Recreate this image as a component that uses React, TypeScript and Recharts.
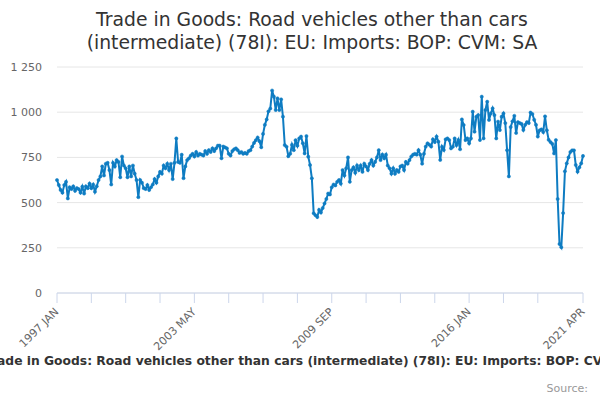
import { CartesianGrid, Line, LineChart, XAxis, YAxis } from "recharts";

const MONTHS = ["JAN", "FEB", "MAR", "APR", "MAY", "JUN", "JUL", "AUG", "SEP", "OCT", "NOV", "DEC"];
const START_YEAR = 1997;

// monthly values, £ million, 1997 JAN .. 2021 APR
const imports = [
  625, 597, 570, 555, 597, 615, 523, 585, 575, 590, 565, 580, // 1997
  575, 555, 588, 550, 590, 580, 605, 580, 600, 560, 590, 625, // 1998
  645, 700, 650, 715, 720, 680, 600, 720, 700, 735, 725, 640, // 1999
  755, 705, 690, 640, 700, 645, 705, 660, 625, 530, 625, 610, // 2000
  580, 575, 597, 570, 585, 600, 630, 610, 645, 670, 660, 705, // 2001
  690, 715, 680, 715, 630, 720, 855, 725, 720, 765, 635, 700, // 2002
  735, 745, 760, 770, 755, 780, 760, 770, 765, 760, 785, 770, // 2003
  790, 780, 800, 785, 800, 815, 815, 745, 810, 805, 800, 770, // 2004
  760, 785, 795, 800, 790, 775, 780, 770, 775, 770, 785, 790, // 2005
  810, 830, 845, 860, 840, 806, 880, 930, 960, 1005, 1020, 1120, // 2006
  1086, 1012, 1077, 1012, 1071, 975, 818, 809, 757, 770, 820, 790, // 2007
  845, 815, 855, 865, 828, 772, 868, 754, 708, 634, 441, 430, // 2008
  420, 460, 445, 470, 495, 520, 550, 545, 585, 600, 595, 615, // 2009
  625, 605, 680, 650, 690, 750, 615, 680, 695, 665, 705, 680, // 2010
  705, 670, 715, 700, 680, 715, 735, 705, 725, 750, 790, 735, // 2011
  765, 745, 765, 705, 690, 660, 690, 660, 680, 670, 700, 705, // 2012
  680, 725, 715, 735, 755, 765, 770, 765, 790, 765, 715, 770, // 2013
  810, 828, 820, 810, 850, 835, 865, 837, 736, 809, 791, 850, // 2014
  855, 846, 800, 809, 855, 818, 846, 795, 960, 929, 846, 855, // 2015
  828, 855, 1003, 892, 975, 984, 846, 1086, 855, 1012, 1058, 957, // 2016
  993, 1021, 984, 855, 948, 901, 975, 993, 940, 790, 645, 918, // 2017
  950, 980, 885, 945, 940, 935, 902, 930, 945, 940, 998, 990, // 2018
  958, 930, 865, 900, 905, 890, 977, 900, 847, 835, 825, 772, // 2019
  846, 520, 271, 253, 442, 673, 717, 750, 780, 789, 789, 708, // 2020
  671, 695, 717, 758, // 2021
];

const yTicks = [0, 250, 500, 750, 1000, 1250];
const xTicks = [0, 19, 38, 57, 76, 95, 114, 133, 152, 171, 190, 209, 228, 247, 266, 291];
const labelTicks = [0, 76, 152, 228, 291];

const TITLE_1 = "Trade in Goods: Road vehicles other than cars";
const TITLE_2 = "(intermediate) (78I): EU: Imports: BOP: CVM: SA";
const SERIES_NAME = "Trade in Goods: Road vehicles other than cars (intermediate) (78I): EU: Imports: BOP: CVM: SA";

const monthLabel = (i: number) => `${START_YEAR + Math.floor(i / 12)} ${MONTHS[i % 12]}`;
const data = imports.map((v, i) => ({ i, month: monthLabel(i), v }));

const BLUE = "#0e7cc2";

function MonthTick({ x, y, payload }: any) {
  const i = payload.value;
  if (!labelTicks.includes(i)) return null;
  const ax = x - 3;
  const ay = y + 2;
  return (
    <text
      x={ax}
      y={ay}
      dy="0.7em"
      textAnchor="end"
      fill="#666"
      fontSize={11}
      transform={`rotate(-45, ${ax}, ${ay})`}
    >
      {monthLabel(i)}
    </text>
  );
}

const fmt = (v: number) => String(v).replace(/\B(?=(\d{3})+(?!\d))/g, " ");

export default function App() {
  return (
    <div
      style={{
        position: "absolute",
        left: 0,
        top: 0,
        width: 600,
        height: 400,
        overflow: "hidden",
        background: "#fff",
        fontFamily: "'DejaVu Sans', sans-serif",
      }}
    >
      <div
        style={{
          position: "absolute",
          left: 0,
          top: 8,
          width: 624,
          textAlign: "center",
          fontSize: 18.8,
          lineHeight: "23px",
          color: "#333",
        }}
      >
        <div>{TITLE_1}</div>
        <div>{TITLE_2}</div>
      </div>
      <LineChart
        width={600}
        height={400}
        data={data}
        margin={{ top: 67, right: 17, bottom: 47, left: 0 }}
      >
        <CartesianGrid horizontal vertical={false} stroke="#e6e6e6" />
        <XAxis
          type="number"
          dataKey="i"
          domain={[0, 291]}
          ticks={xTicks}
          interval={0}
          height={60}
          tickSize={10}
          axisLine={{ stroke: "#ccd6eb" }}
          tickLine={{ stroke: "#ccd6eb" }}
          tick={<MonthTick />}
        />
        <YAxis
          domain={[0, 1250]}
          ticks={yTicks}
          width={57}
          axisLine={false}
          tickLine={false}
          tickSize={0}
          tickMargin={15}
          tickFormatter={fmt}
          tick={{ fill: "#666", fontSize: 11 }}
        />
        <Line
          type="linear"
          dataKey="v"
          stroke={BLUE}
          strokeWidth={2}
          dot={{ r: 1.6, fill: BLUE, stroke: BLUE, strokeWidth: 0.5 }}
          isAnimationActive={false}
        />
      </LineChart>
      <div
        style={{
          position: "absolute",
          left: 313,
          top: 354,
          transform: "translateX(-50%)",
          whiteSpace: "nowrap",
          fontSize: 12.3,
          fontWeight: "bold",
          color: "#333",
        }}
      >
        {SERIES_NAME}
      </div>
      <div
        style={{
          position: "absolute",
          right: 12,
          top: 382,
          fontSize: 11,
          color: "#999",
        }}
      >
        Source:
      </div>
    </div>
  );
}
